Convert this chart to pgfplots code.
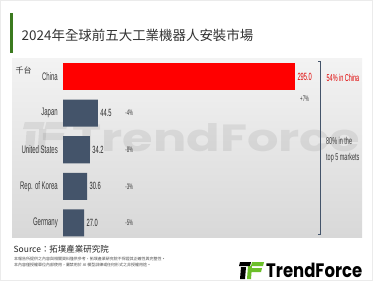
\documentclass[border=0pt]{standalone}
\usepackage{graphicx}
\usepackage{pgfplots}
\pgfplotsset{compat=1.18}
\usepackage{fontspec}
\setmainfont{Liberation Sans}
\newfontfamily\cjk{Noto Sans CJK TC}
\newfontfamily\narrow[FakeStretch=0.55]{Liberation Sans}
\newfontfamily\logofont{Poppins}
\definecolor{barblue}{HTML}{44546A}
\definecolor{titlegreen}{HTML}{3B7A1F}
\definecolor{logogreen}{HTML}{6CBF2A}
\definecolor{labelgray}{HTML}{383838}
\definecolor{panelTop}{HTML}{F3F3F3}
\definecolor{panelBot}{HTML}{D8D8D8}
\definecolor{redlab}{HTML}{E00000}
\begin{document}
\begin{tikzpicture}
\path[use as bounding box] (0,0) rectangle (375bp,-281bp);
\begin{scope}[x=1bp,y=-1bp]
\fill[white] (0,0) rectangle (375,281);
\draw[black!8] (0.5,0.5) rectangle (372.5,280.5);
% title
\fill[titlegreen] (9.5,13) rectangle (12.5,53);
\node[anchor=west, inner sep=0, text=black!80, font=\cjk\fontsize{13.5}{14}\selectfont] at (21.5,35) {2024年全球前五大工業機器人安裝市場};
% panel
\shade[top color=panelTop, bottom color=panelBot] (12,58) rectangle (362,237);
% watermark
\begin{scope}[shift={(23,122)}, scale=1.8, opacity=0.07]
\fill[black] (1,0) -- (12,0) -- (11,4) -- (0,4) -- cycle;
\fill[black] (2,5) -- (7,5) -- (6,17) -- (1,17) -- cycle;
\fill[black] (13,0) -- (25,0) -- (24,4) -- (12,4) -- cycle;
\fill[black] (11,6) -- (23,6) -- (22,10) -- (11,10) -- cycle;
\fill[black] (9,4) -- (13,4) -- (12,17) -- (8,17) -- cycle;
\end{scope}
\node[anchor=south west, inner sep=0, opacity=0.07] at (72,152) {\resizebox{288bp}{28bp}{\logofont\bfseries TrendForce}};
% unit
\node[anchor=west, inner sep=0, text=black!80, font=\cjk\fontsize{8}{8}\selectfont] at (15.5,70.5) {千台};
% bracket
\draw[barblue, line width=0.9bp] (318,61.7) -- (320,61.7) -- (320,234) -- (318,234);
\node[anchor=west, inner sep=0, text=redlab, font=\narrow\fontsize{10}{10}\selectfont] at (326.5,77.7) {54\% in China};
\node[anchor=north west, inner sep=0, text=labelgray, align=left, font=\narrow\fontsize{10}{15.4}\selectfont] at (326,137.3) {80\% in the\\top 5 markets};
% footer
\node[anchor=west, inner sep=0, text=black!85, font=\cjk\fontsize{8.5}{9}\selectfont] at (13.5,249.5) {Source：拓墣產業研究院};
\node[anchor=west, inner sep=0, text=black!70, font=\cjk\fontsize{4}{4.5}\selectfont] at (14,258.5) {本報告所提供之內容與相關資料僅供參考，拓墣產業研究院不保證其正確性與完整性。};
\node[anchor=west, inner sep=0, text=black!70, font=\cjk\fontsize{4}{4.5}\selectfont] at (14,265) {本內容僅授權單位內部使用，嚴禁用於 AI 模型訓練或任何形式之非授權用途。};
% logo
\begin{scope}[shift={(239,262)}]
\fill[black] (1,0) -- (12,0) -- (11,4) -- (0,4) -- cycle;
\fill[black] (2,5) -- (7,5) -- (6,17) -- (1,17) -- cycle;
\fill[logogreen] (13,0) -- (25,0) -- (24,4) -- (12,4) -- cycle;
\fill[logogreen] (11,6) -- (23,6) -- (22,10) -- (11,10) -- cycle;
\fill[logogreen] (9,4) -- (13,4) -- (12,17) -- (8,17) -- cycle;
\end{scope}
\node[anchor=south west, inner sep=0] at (266,277.7) {\resizebox{96bp}{14.4bp}{\logofont\bfseries TrendForce}};
\end{scope}
\begin{axis}[
  at={(63bp,-58.2bp)}, anchor=north west,
  scale only axis, width=232bp, height=178.8bp,
  xmin=0, xmax=295, ymin=-0.5, ymax=4.385, y dir=reverse,
  clip=false,
  axis line style={draw=none},
  major tick length=0pt,
  xtick=\empty,
  ytick={0,1,2,3,4},
  yticklabels={China,Japan,United States,Rep. of Korea,Germany},
  yticklabel style={font=\narrow\fontsize{11}{11}\selectfont, text=labelgray, inner sep=0pt, xshift=-5bp},
  /pgf/number format/assume math mode=true,
]
\addplot[xbar, bar width=0.74, bar shift=0pt, fill=red, draw=none,
  nodes near coords={\pgfmathprintnumber[fixed,fixed zerofill,precision=1]{\pgfplotspointmeta}},
  nodes near coords style={anchor=west, inner sep=0pt, xshift=2.3bp, text=redlab, font=\narrow\fontsize{10.5}{10.5}\selectfont}]
  coordinates {(295.0,0)};
\addplot[xbar, bar width=0.74, bar shift=0pt, fill=barblue, draw=none,
  nodes near coords={\pgfmathprintnumber[fixed,fixed zerofill,precision=1]{\pgfplotspointmeta}},
  nodes near coords style={anchor=west, inner sep=0pt, xshift=2.3bp, text=black!85, font=\narrow\fontsize{10.5}{10.5}\selectfont}]
  coordinates {(44.5,1) (34.2,2) (30.6,3) (27.0,4)};
\addplot[draw=none, mark=none, point meta=explicit symbolic, nodes near coords,
  nodes near coords style={anchor=west, inner sep=0pt, text=labelgray, font=\narrow\fontsize{8}{8}\selectfont}]
  coordinates {(301.4,0.6) [+7\%] (79,1) [-4\%] (79,2) [-8\%] (79,3) [-3\%] (79,4) [-5\%]};
\end{axis}
\end{tikzpicture}
\end{document}
